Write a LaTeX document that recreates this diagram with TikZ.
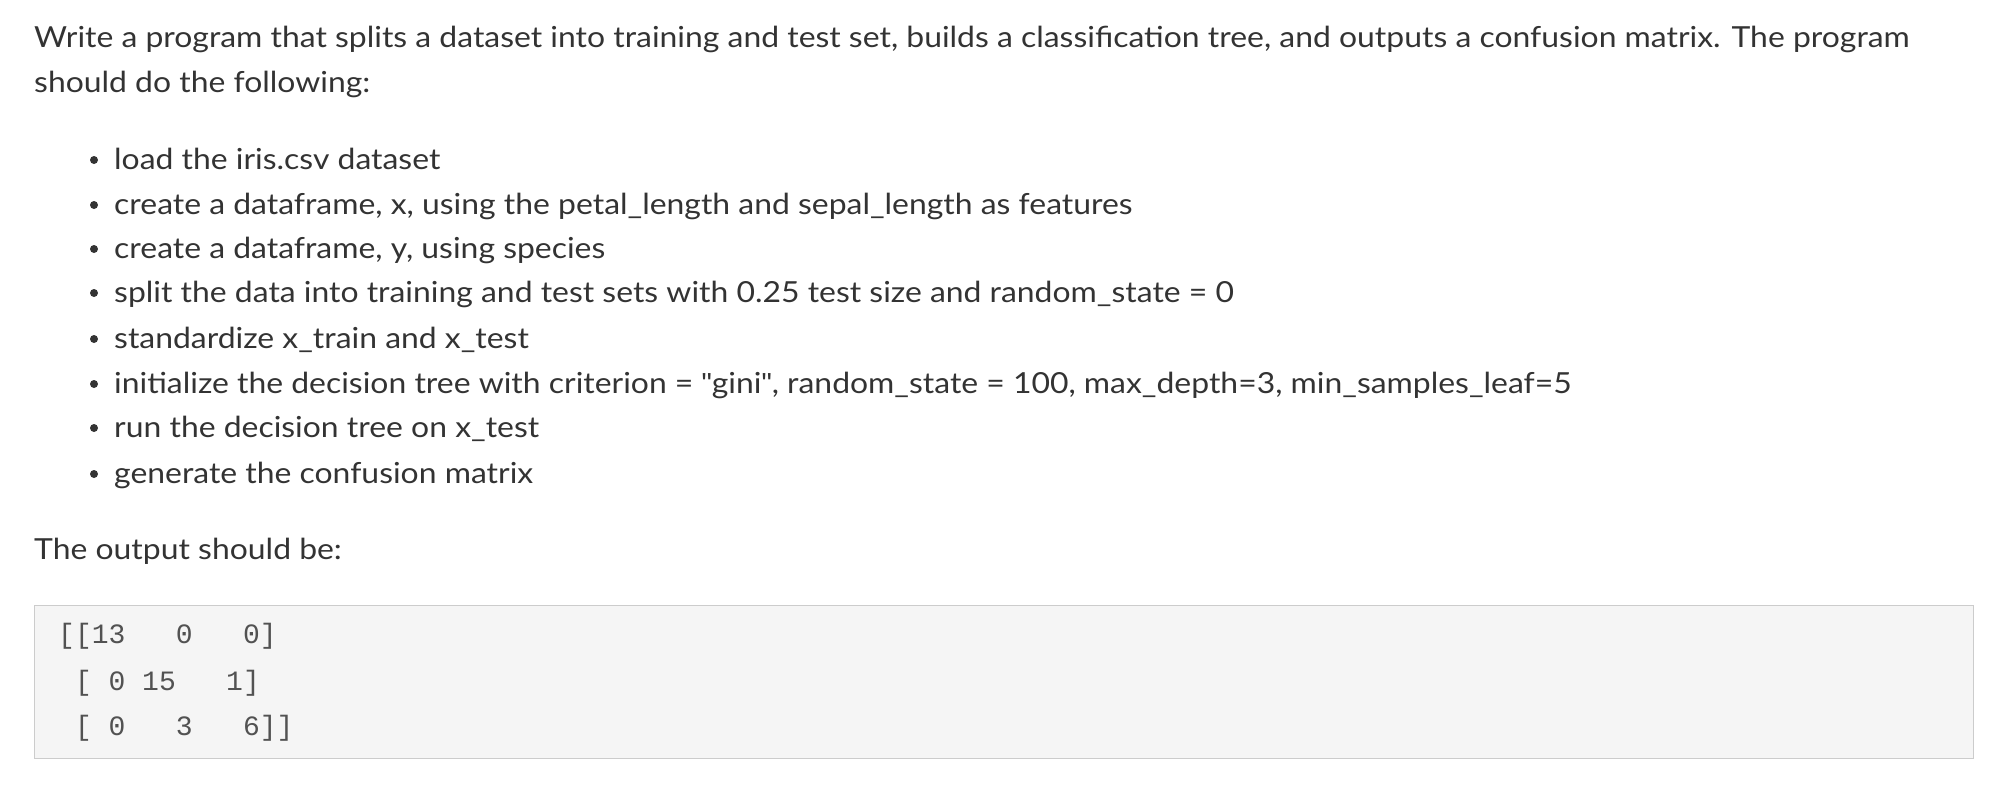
\documentclass[tikz,border=0pt]{standalone}
\usepackage{fontspec}
\setmainfont[FakeStretch=1.1]{Lato}
\setmonofont{Liberation Mono}
\newfontfamily\qfont{Liberation Sans}
\newcommand{\sq}{{\qfont\symbol{34}}}
\definecolor{txt}{HTML}{333333}
\definecolor{boxbg}{HTML}{F5F5F5}
\definecolor{boxln}{HTML}{CCCCCC}
\begin{document}
\begin{tikzpicture}[x=1pt,y=-1pt,
  t/.style={anchor=base west,inner sep=0pt,text=txt,font=\fontsize{29}{34}\selectfont},
  c/.style={anchor=base west,inner sep=0pt,text=txt!85,font=\ttfamily\fontsize{28}{32}\selectfont},
  bul/.style={circle,fill=txt,inner sep=0pt,minimum size=8pt}]
\useasboundingbox (0,0) rectangle (1992,788);
\node[t] (l1) at (34,47) {Write a program that splits a dataset into training and test set, builds a classification tree, and outputs a confusion matrix. The program};
\node[t] (l2) at (34,92) {should do the following:};
\foreach \y/\s [count=\i] in {169/{load the iris.csv dataset},
 214/{create a dataframe, x, using the petal\_length and sepal\_length as features},
 258/{create a dataframe, y, using species},
 302/{split the data into training and test sets with 0.25 test size and random\_state = 0},
 348/{standardize x\_train and x\_test},
 393/{initialize the decision tree with criterion = \sq gini\sq, random\_state = 100, max\_depth=3, min\_samples\_leaf=5},
 437/{run the decision tree on x\_test},
 483/{generate the confusion matrix}}{
  \node[bul] (b\i) at (94,\y-9) {};
  \node[t] (s\i) at (114,\y) {\s};
}
\node[t] (out) at (34,559) {The output should be:};
\node[draw=boxln,fill=boxbg,line width=1pt,minimum width=1939pt,minimum height=153pt,anchor=north west,inner sep=0pt] (box) at (34,605) {};
\node[c] (c1) at (58,643) {[[13\ \ \ 0\ \ \ 0]};
\node[c] (c2) at (58,690) {\ [\ 0\ 15\ \ \ 1]};
\node[c] (c3) at (58,735) {\ [\ 0\ \ \ 3\ \ \ 6]]};
\end{tikzpicture}
\end{document}
